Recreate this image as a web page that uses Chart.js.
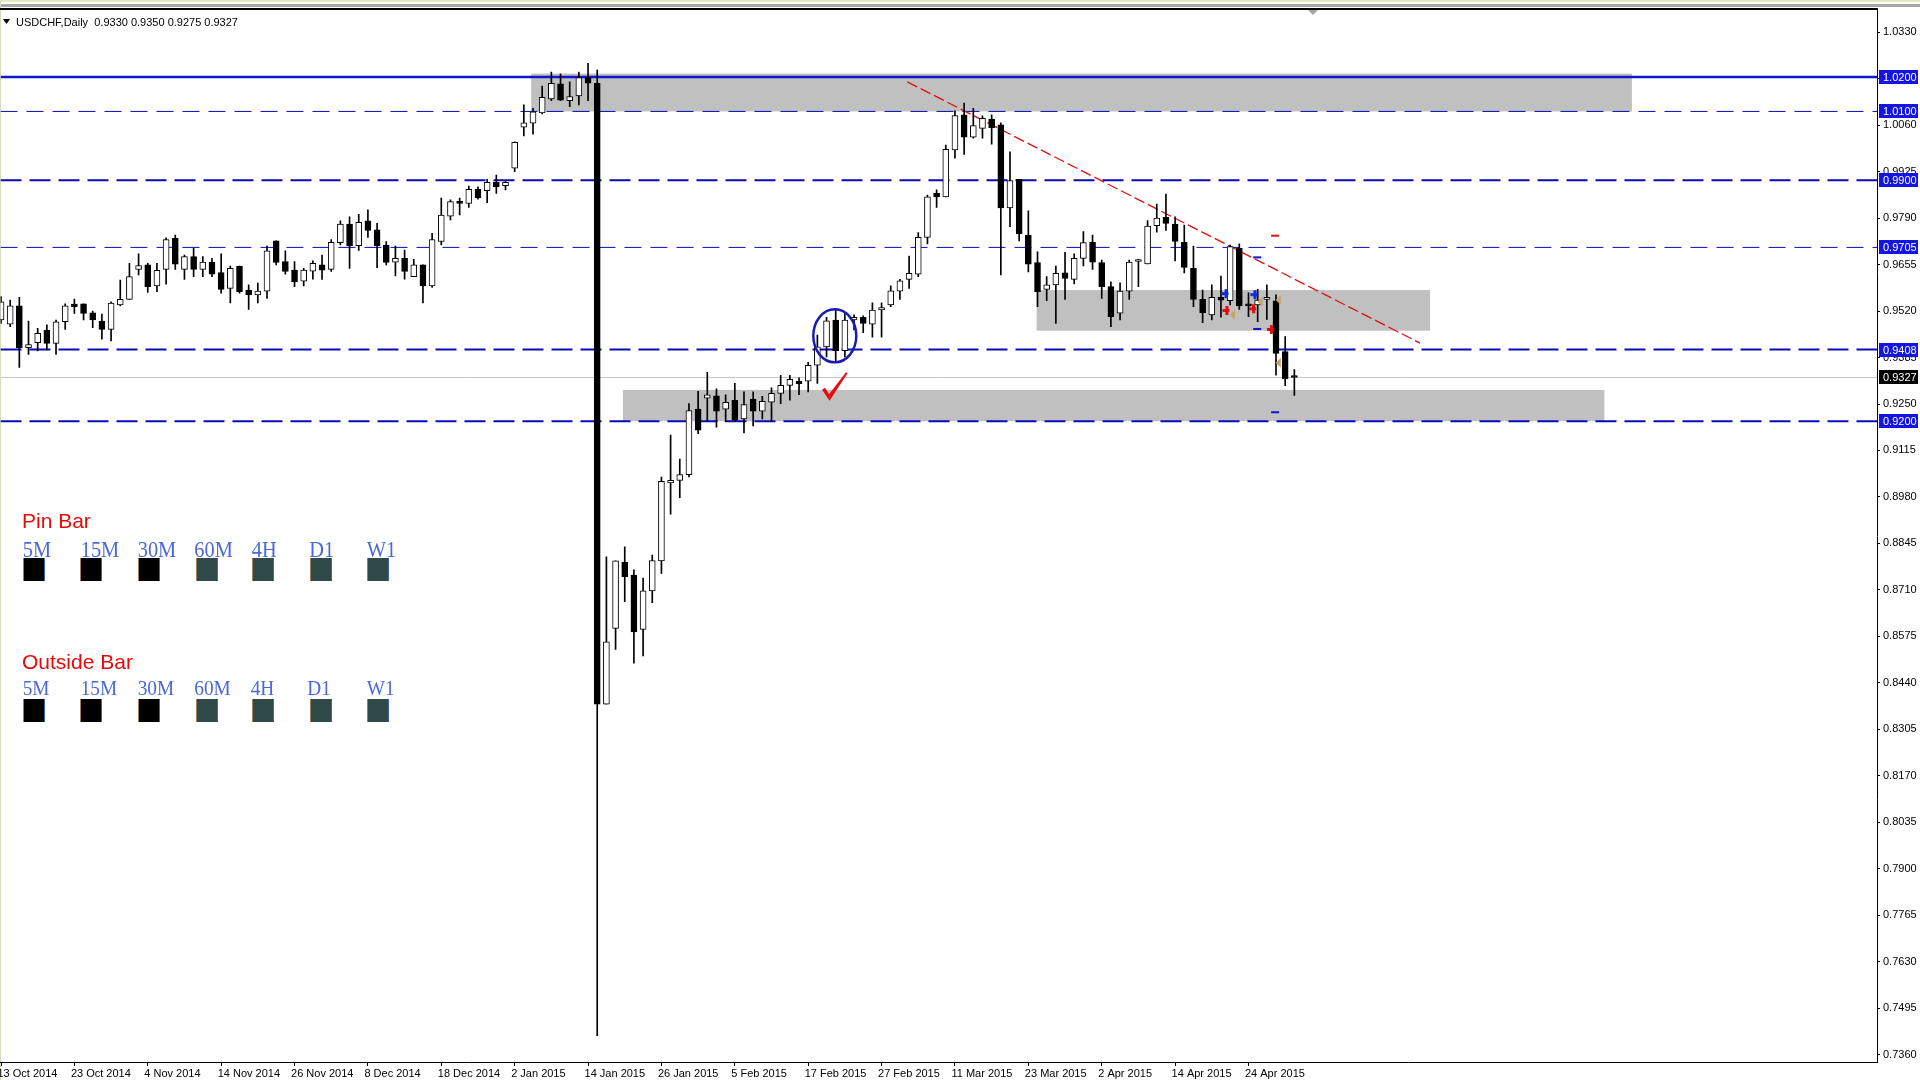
<!DOCTYPE html>
<html><head><meta charset="utf-8">
<script src="https://cdn.jsdelivr.net/npm/chart.js@4.4.1/dist/chart.umd.min.js"></script>
<style>html,body{margin:0;padding:0;background:#fff;overflow:hidden}canvas{display:block}</style>
</head><body>
<canvas id="c" width="1920" height="1080"></canvas>
<script>
// ---------------- data ----------------
const symbolName = 'USDCHF,Daily';
const barsPerLabel = 8;
const dateLabels = ['13 Oct 2014','23 Oct 2014','4 Nov 2014','14 Nov 2014','26 Nov 2014','8 Dec 2014','18 Dec 2014','2 Jan 2015','14 Jan 2015','26 Jan 2015','5 Feb 2015','17 Feb 2015','27 Feb 2015','11 Mar 2015','23 Mar 2015','2 Apr 2015','14 Apr 2015','24 Apr 2015'];
const opens  = [0.9494,0.9482,0.9535,0.9414,0.9428,0.9465,0.9426,0.9489,0.9540,0.9541,0.9515,0.9491,0.9467,0.9538,0.9554,0.9641,0.9654,0.9593,0.9641,0.9731,0.9641,0.9678,0.9641,0.9662,0.9632,0.9586,0.9651,0.9581,0.9567,0.9578,0.9724,0.9664,0.9639,0.9607,0.9636,0.9654,0.9641,0.9719,0.9773,0.9710,0.9782,0.9756,0.9712,0.9662,0.9673,0.9620,0.9654,0.9593,0.9722,0.9796,0.9839,0.9833,0.9874,0.9870,0.9894,0.9884,0.9935,1.0054,1.0066,1.0096,1.0136,1.0180,1.0131,1.0145,1.0198,1.0182,0.8378,0.8598,0.8790,0.8753,0.8595,0.8707,0.8794,0.9021,0.9028,0.9045,0.9235,0.9267,0.9274,0.9235,0.9261,0.9207,0.9264,0.9229,0.9255,0.9281,0.9304,0.9316,0.9316,0.9363,0.9416,0.9494,0.9405,0.9494,0.9502,0.9482,0.9523,0.9538,0.9578,0.9612,0.9627,0.9734,0.9862,0.9852,0.9988,1.0090,1.0025,1.0051,1.0078,1.0061,0.9820,0.9903,0.9741,0.9661,0.9583,0.9596,0.9631,0.9612,0.9673,0.9720,0.9661,0.9591,0.9514,0.9578,0.9664,0.9657,0.9768,0.9792,0.9773,0.9720,0.9644,0.9554,0.9509,0.9560,0.9550,0.9702,0.9540,0.9538,0.9554,0.9550,0.9402,0.9330];
const highs  = [0.9562,0.9552,0.9560,0.9491,0.9470,0.9480,0.9494,0.9541,0.9555,0.9541,0.9520,0.9511,0.9547,0.9610,0.9659,0.9686,0.9659,0.9659,0.9733,0.9741,0.9683,0.9702,0.9678,0.9673,0.9686,0.9651,0.9651,0.9596,0.9601,0.9709,0.9724,0.9695,0.9664,0.9644,0.9666,0.9683,0.9728,0.9782,0.9794,0.9801,0.9814,0.9775,0.9722,0.9709,0.9697,0.9670,0.9654,0.9746,0.9848,0.9843,0.9848,0.9883,0.9881,0.9903,0.9915,0.9896,1.0012,1.0119,1.0109,1.0174,1.0214,1.0209,1.0186,1.0214,1.0240,1.0220,0.8806,0.8794,0.8835,0.8768,0.8744,0.8811,0.9038,0.9160,0.9090,0.9251,0.9287,0.9342,0.9294,0.9277,0.9310,0.9285,0.9285,0.9272,0.9297,0.9333,0.9333,0.9326,0.9371,0.9450,0.9502,0.9528,0.9514,0.9509,0.9506,0.9544,0.9544,0.9593,0.9612,0.9680,0.9748,0.9857,0.9872,1.0002,1.0102,1.0124,1.0109,1.0087,1.0090,1.0067,0.9983,0.9903,0.9811,0.9692,0.9620,0.9651,0.9691,0.9686,0.9751,0.9741,0.9668,0.9605,0.9602,0.9668,0.9670,0.9783,0.9831,0.9860,0.9794,0.9770,0.9709,0.9581,0.9596,0.9622,0.9712,0.9715,0.9573,0.9583,0.9596,0.9567,0.9446,0.9350];
const lows   = [0.9484,0.9475,0.9356,0.9394,0.9404,0.9407,0.9394,0.9467,0.9513,0.9494,0.9472,0.9438,0.9433,0.9535,0.9554,0.9625,0.9574,0.9576,0.9598,0.9641,0.9612,0.9620,0.9620,0.9620,0.9572,0.9544,0.9572,0.9525,0.9544,0.9557,0.9654,0.9627,0.9591,0.9593,0.9613,0.9612,0.9635,0.9712,0.9644,0.9696,0.9734,0.9646,0.9654,0.9622,0.9613,0.9620,0.9544,0.9589,0.9712,0.9785,0.9799,0.9821,0.9845,0.9835,0.9862,0.9872,0.9925,1.0029,1.0034,1.0093,1.0131,1.0131,1.0114,1.0119,1.0131,0.7415,0.8378,0.8537,0.8676,0.8497,0.8518,0.8673,0.8758,0.8930,0.8978,0.9038,0.9164,0.9200,0.9183,0.9199,0.9200,0.9166,0.9186,0.9207,0.9200,0.9251,0.9261,0.9277,0.9285,0.9310,0.9387,0.9370,0.9387,0.9465,0.9457,0.9444,0.9444,0.9533,0.9554,0.9586,0.9620,0.9715,0.9821,0.9852,0.9964,0.9975,1.0022,1.0022,1.0005,0.9625,0.9765,0.9724,0.9634,0.9533,0.9550,0.9484,0.9554,0.9599,0.9651,0.9641,0.9557,0.9475,0.9494,0.9554,0.9591,0.9657,0.9749,0.9754,0.9666,0.9631,0.9533,0.9486,0.9494,0.9502,0.9538,0.9525,0.9504,0.9489,0.9496,0.9334,0.9303,0.9275];
const closes = [0.9547,0.9535,0.9414,0.9423,0.9455,0.9426,0.9489,0.9535,0.9533,0.9513,0.9494,0.9467,0.9543,0.9554,0.9620,0.9652,0.9591,0.9638,0.9728,0.9656,0.9678,0.9641,0.9662,0.9627,0.9583,0.9644,0.9576,0.9567,0.9578,0.9695,0.9661,0.9635,0.9605,0.9639,0.9659,0.9639,0.9720,0.9773,0.9710,0.9778,0.9754,0.9710,0.9661,0.9673,0.9635,0.9654,0.9593,0.9728,0.9799,0.9838,0.9833,0.9874,0.9849,0.9894,0.9881,0.9894,1.0010,1.0067,1.0099,1.0141,1.0182,1.0133,1.0143,1.0198,1.0182,0.8378,0.8559,0.8794,0.8748,0.8588,0.8707,0.8795,0.9025,0.9028,0.9045,0.9231,0.9174,0.9277,0.9229,0.9255,0.9203,0.9248,0.9229,0.9258,0.9281,0.9304,0.9322,0.9309,0.9362,0.9416,0.9492,0.9405,0.9494,0.9502,0.9484,0.9523,0.9530,0.9579,0.9608,0.9630,0.9734,0.9852,0.9852,0.9990,1.0088,1.0025,1.0059,1.0080,1.0053,0.9820,0.9899,0.9744,0.9656,0.9576,0.9596,0.9630,0.9615,0.9673,0.9719,0.9662,0.9591,0.9504,0.9578,0.9662,0.9666,0.9767,0.9790,0.9775,0.9722,0.9647,0.9554,0.9515,0.9560,0.9552,0.9707,0.9535,0.9535,0.9552,0.9556,0.9397,0.9323,0.9327];
const yTickLabels = ['1.0330','1.0195','1.0060','0.9925','0.9790','0.9655','0.9520','0.9385','0.9250','0.9115','0.8980','0.8845','0.8710','0.8575','0.8440','0.8305','0.8170','0.8035','0.7900','0.7765','0.7630','0.7495','0.7360'];
const levelPrices = [1.0200, 1.0100, 0.9900, 0.9705, 0.9408, 0.9200];
const currentPrice = 0.9327;
// zones (bar index / price)
const zoneStart = [57.8, 112.9, 67.8];
const zoneEnd   = [177.8, 155.8, 174.8];
const zoneHigh  = [1.0210, 0.9581, 0.9291];
const zoneLow   = [1.0100, 0.9463, 0.9200];
// trend line (bar index / price)
const trendIndex = [98.8, 154.7];
const trendPrice = [1.0186, 0.9427];
// circled bars and check mark anchor (bar index / price)
const circleIndex = 90.9, circlePrice = 0.9448;
const checkIndex = 90.0, checkPrice = 0.9261;
// small signal marks (bar index / price)
const markIndex = [138.9, 136.95, 136.95, 138.9, 133.5, 136.65, 133.6, 136.5, 138.45, 134.2, 137.2, 139.2, 139.2];
const markPrice = [0.9739, 0.9676, 0.9468, 0.9226, 0.9572, 0.9569, 0.9523, 0.9528, 0.9468, 0.9509, 0.9547, 0.9552, 0.9370];
const markKind  = ['dashR','dashB','dashB','dashB','arrB','arrB','arrR','arrR','arrR','tri','tri','tri','tri'];
// legend
const legendTitles = ['Pin Bar', 'Outside Bar'];
const timeframes = ['5M','15M','30M','60M','4H','D1','W1'];
const tfActive = [[1,1,1,0,0,0,0],[1,1,1,0,0,0,0]];

// ---------------- styles / geometry ----------------
const X_MIN = -0.055, X_MAX = 204.52, Y_MIN = 0.73383, Y_MAX = 1.03947;
const levelWidth = [2.5, 1, 2, 1, 2, 2];
const levelDash  = [[], [17, 9], [21, 8], [17, 9], [21, 8], [21, 8]];
const LINE_BLUE = '#0a0ab8';
const FONT = '"Liberation Sans", Arial, sans-serif';

const idx = opens.map((_, i) => i);
const wickData = idx.map(i => ({x: i, y: [lows[i], highs[i]]}));
const bodyData = idx.map(i => ({x: i, y: [opens[i], closes[i]]}));
const bodyFill = idx.map(i => closes[i] >= opens[i] ? '#ffffff' : '#000000');

const datasets = [
  {type: 'bar', label: 'body', data: bodyData, backgroundColor: bodyFill, borderColor: '#000', borderWidth: 1,
   borderSkipped: false, barThickness: 6, minBarLength: 2, grouped: false, order: 0},
  {type: 'bar', label: 'wick', data: wickData, backgroundColor: '#000', borderWidth: 0,
   barThickness: 1, grouped: false, order: 1},
  {type: 'line', label: 'trend', data: trendIndex.map((x, k) => ({x, y: trendPrice[k]})), borderColor: '#e01010',
   borderWidth: 1.3, borderDash: [11, 4], pointRadius: 0, fill: false, order: 3},
  {type: 'line', label: 'price', data: [{x: X_MIN, y: currentPrice}, {x: X_MAX, y: currentPrice}], borderColor: '#c4c4c4',
   borderWidth: 1, pointRadius: 0, fill: false, order: 4}
];
levelPrices.forEach((p, k) => {
  datasets.push({type: 'line', label: 'level' + k, data: [{x: X_MIN, y: p}, {x: X_MAX, y: p}],
    borderColor: k === 0 ? '#0c18d0' : LINE_BLUE, borderWidth: levelWidth[k], borderDash: levelDash[k],
    pointRadius: 0, fill: false, order: 5});
});

function px(chart, i, p) { return [chart.scales.x.getPixelForValue(i), chart.scales.y.getPixelForValue(p)]; }

const extras = {
  id: 'extras',
  beforeDraw(chart) {
    const {ctx, width, height} = chart;
    ctx.save();
    ctx.fillStyle = '#fff'; ctx.fillRect(0, 0, width, height);
    ctx.fillStyle = '#e2eac0'; ctx.fillRect(0, 0, width, 2);
    ctx.fillStyle = '#a6a6a6'; ctx.fillRect(0, 4, width, 3);
    ctx.fillStyle = '#d4dcbc'; ctx.fillRect(0, 0, 1, height);
    ctx.restore();
  },
  beforeDatasetsDraw(chart) {
    const {ctx, chartArea: a} = chart;
    ctx.save();
    ctx.beginPath(); ctx.rect(a.left, a.top, a.right - a.left, a.bottom - a.top); ctx.clip();
    ctx.fillStyle = '#c0c0c0';
    zoneStart.forEach((s, k) => {
      const [x0, y0] = px(chart, s, zoneHigh[k]);
      const [x1, y1] = px(chart, zoneEnd[k], zoneLow[k]);
      ctx.fillRect(x0, y0, x1 - x0, y1 - y0);
    });
    ctx.restore();
  },
  afterDatasetsDraw(chart) {
    const {ctx} = chart;
    ctx.save();
    // circle
    const [cx, cy] = px(chart, circleIndex, circlePrice);
    ctx.strokeStyle = '#1a1ab4'; ctx.lineWidth = 2.5;
    ctx.beginPath(); ctx.ellipse(cx, cy, 21.5, 26.5, 0, 0, Math.PI * 2); ctx.stroke();
    // check mark
    const [kx, ky] = px(chart, checkIndex, checkPrice);
    ctx.fillStyle = '#e80c0c';
    ctx.beginPath();
    ctx.moveTo(kx - 4.5, ky - 10.5);
    ctx.lineTo(kx - 1.5, ky - 12.5);
    ctx.lineTo(kx + 2.5, ky - 6);
    ctx.lineTo(kx + 19.5, ky - 28);
    ctx.lineTo(kx + 21, ky - 27);
    ctx.lineTo(kx + 3, ky + 0.5);
    ctx.closePath(); ctx.fill();
    // small marks
    markIndex.forEach((m, k) => {
      const [mx, my] = px(chart, m, markPrice[k]);
      const kind = markKind[k];
      if (kind === 'dashR' || kind === 'dashB') {
        ctx.fillStyle = kind === 'dashR' ? '#e01010' : '#1010d8';
        ctx.fillRect(mx - 4, my - 1, 8, 2);
      } else if (kind === 'arrB' || kind === 'arrR') {
        ctx.fillStyle = kind === 'arrB' ? '#1030e0' : '#e01010';
        ctx.fillRect(mx - 4, my - 1, 7, 3);
        ctx.fillRect(mx - 1, my - 4, 3, 9);
      } else {
        ctx.fillStyle = '#c8a468';
        ctx.beginPath(); ctx.moveTo(mx + 3, my - 5); ctx.lineTo(mx + 3, my + 5); ctx.lineTo(mx - 2, my); ctx.closePath(); ctx.fill();
      }
    });
    ctx.restore();
  },
  afterDraw(chart) {
    const {ctx, chartArea: a, scales: {y}} = chart;
    ctx.save();
    // frame top
    ctx.fillStyle = '#000'; ctx.fillRect(0, 8, a.right + 1, 2);
    // shift marker
    ctx.fillStyle = '#a8a8a8';
    ctx.beginPath(); ctx.moveTo(1308, 10); ctx.lineTo(1318, 10); ctx.lineTo(1313, 15); ctx.closePath(); ctx.fill();
    // price labels on the axis
    ctx.font = '11px ' + FONT; ctx.textBaseline = 'middle'; ctx.textAlign = 'left';
    const tag = (p, bg) => {
      const yy = Math.round(y.getPixelForValue(p));
      ctx.fillStyle = bg; ctx.fillRect(a.right + 2, yy - 7, 39, 14);
      ctx.fillStyle = '#fff'; ctx.fillText(p.toFixed(4), a.right + 6, yy + 0.5);
    };
    levelPrices.forEach(p => tag(p, '#1414e6'));
    tag(currentPrice, '#000');
    // header
    ctx.fillStyle = '#000';
    ctx.beginPath(); ctx.moveTo(3, 19); ctx.lineTo(10, 19); ctx.lineTo(6.5, 24); ctx.closePath(); ctx.fill();
    ctx.textBaseline = 'alphabetic';
    const last = opens.length - 1;
    ctx.fillText(symbolName + '  ' + [opens[last], highs[last], lows[last], closes[last]].map(v => v.toFixed(4)).join(' '), 16, 26);
    // legend blocks
    const rows = [
      {titleY: 528, labY: 557, boxY: 558, size: 24, sx: 0.85, labX: [22.7, 80.7, 137.7, 194.3, 251.7, 309.3, 366.7]},
      {titleY: 669, labY: 695, boxY: 699, size: 21, sx: 0.92, labX: [22.7, 80.7, 137.7, 194.3, 250.7, 307.3, 366.7]}
    ];
    const boxX = [24, 81.3, 139.3, 196.7, 253.3, 311.3, 368.3];
    rows.forEach((r, k) => {
      ctx.fillStyle = '#e80a0a'; ctx.font = '21px ' + FONT;
      ctx.fillText(legendTitles[k], 22, r.titleY);
      ctx.fillStyle = '#4a68d8';
      ctx.font = r.size + 'px "Liberation Serif", "Times New Roman", serif';
      timeframes.forEach((t, j) => {
        ctx.save(); ctx.translate(r.labX[j], r.labY); ctx.scale(r.sx, 1); ctx.fillText(t, 0, 0); ctx.restore();
        const bx = Math.round(boxX[j]);
        ctx.fillStyle = tfActive[k][j] ? '#000' : '#2f4a48';
        ctx.fillRect(bx, r.boxY, 20, 23);
        ctx.fillStyle = '#a08058'; ctx.fillRect(bx - 1, r.boxY, 1, 23);
        ctx.fillStyle = '#3a64b0'; ctx.fillRect(bx + 20, r.boxY, 1, 23);
        ctx.fillStyle = '#4a68d8';
      });
    });
    ctx.restore();
  }
};

Chart.defaults.font.family = FONT;
new Chart(document.getElementById('c'), {
  type: 'bar',
  data: {datasets},
  options: {
    responsive: false, animation: false, devicePixelRatio: 1, events: [],
    layout: {autoPadding: false, padding: {top: 10, left: 0, right: 0, bottom: 0}},
    plugins: {legend: {display: false}, tooltip: {enabled: false}},
    scales: {
      x: {
        type: 'linear', min: X_MIN, max: X_MAX, offset: false,
        afterBuildTicks: s => { s.ticks = dateLabels.map((_, k) => ({value: k * barsPerLabel})); },
        afterFit: s => { s.height = 18; },
        grid: {display: true, drawOnChartArea: false, drawTicks: true, tickLength: 4, color: '#000', offset: false},
        border: {display: true, color: '#000', width: 1},
        ticks: {align: 'start', labelOffset: -3.5, padding: 1, autoSkip: false, maxRotation: 0, color: '#000',
                font: {size: 11, family: FONT}, callback: (v, k) => dateLabels[k]}
      },
      y: {
        type: 'linear', position: 'right', min: Y_MIN, max: Y_MAX,
        afterBuildTicks: s => { s.ticks = yTickLabels.map(t => ({value: parseFloat(t)})); },
        afterFit: s => { s.width = 43; },
        grid: {display: true, drawOnChartArea: false, drawTicks: true, tickLength: 3, color: '#000'},
        border: {display: true, color: '#000', width: 1},
        ticks: {padding: 3, autoSkip: false, color: '#000', font: {size: 11, family: FONT}, callback: (v, k) => yTickLabels[k]}
      }
    }
  },
  plugins: [extras]
});
</script>
</body></html>
